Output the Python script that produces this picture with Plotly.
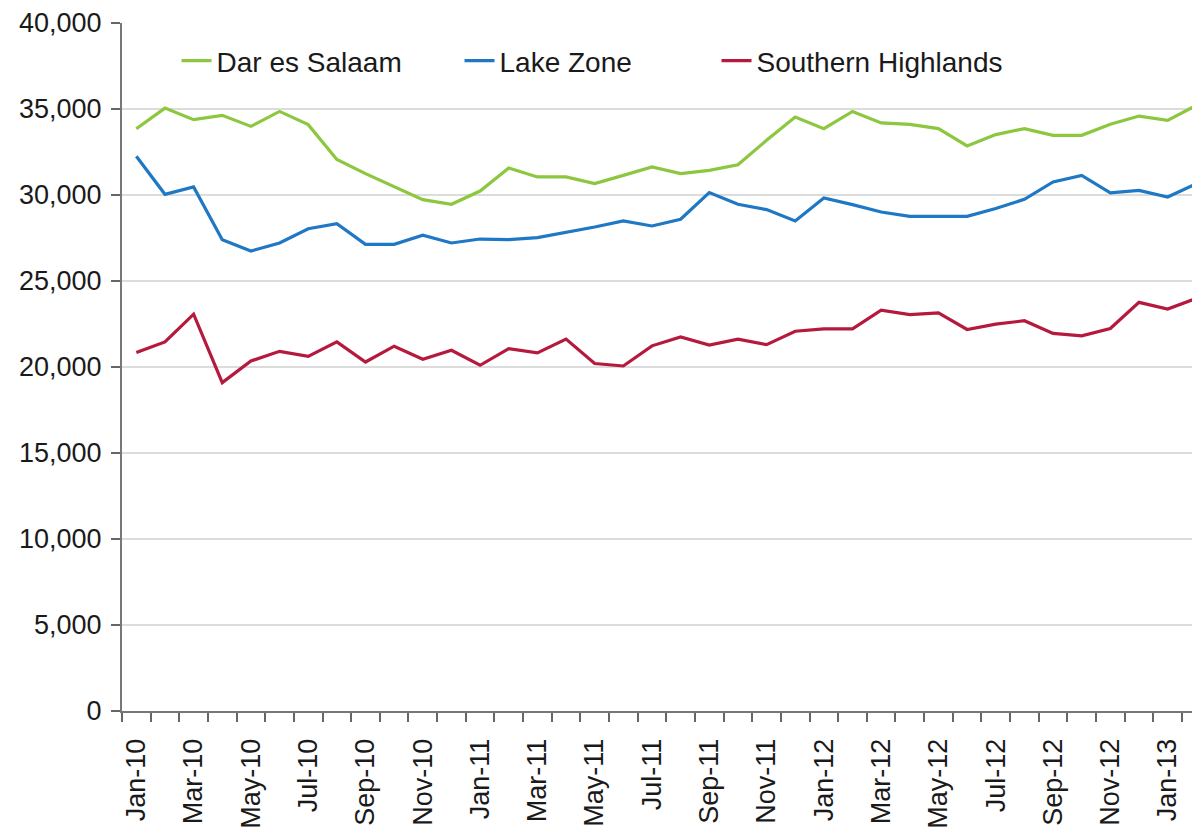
import plotly.graph_objects as go

months = ["Jan-10", "Feb-10", "Mar-10", "Apr-10", "May-10", "Jun-10", "Jul-10", "Aug-10",
          "Sep-10", "Oct-10", "Nov-10", "Dec-10", "Jan-11", "Feb-11", "Mar-11", "Apr-11",
          "May-11", "Jun-11", "Jul-11", "Aug-11", "Sep-11", "Oct-11", "Nov-11", "Dec-11",
          "Jan-12", "Feb-12", "Mar-12", "Apr-12", "May-12", "Jun-12", "Jul-12", "Aug-12",
          "Sep-12", "Oct-12", "Nov-12", "Dec-12", "Jan-13", "Feb-13"]

dar_es_salaam = [33850, 35050, 34380, 34630, 33990, 34860, 34090, 32070, 31240, 30500,
                 29730, 29460, 30230, 31570, 31050, 31050, 30660, 31140, 31630, 31240,
                 31430, 31760, 33180, 34530, 33860, 34860, 34190, 34110, 33860, 32850,
                 33510, 33860, 33470, 33470, 34110, 34590, 34340, 35210]

lake_zone = [32250, 30040, 30470, 27400, 26740, 27210, 28040, 28330, 27130, 27130,
             27660, 27210, 27440, 27400, 27520, 27810, 28140, 28490, 28200, 28590,
             30140, 29460, 29150, 28490, 29830, 29440, 29010, 28760, 28760, 28760,
             29210, 29750, 30760, 31140, 30120, 30270, 29880, 30660]

southern_highlands = [20840, 21460, 23070, 19090, 20350, 20910, 20620, 21460, 20290, 21210,
                      20450, 20970, 20100, 21070, 20820, 21620, 20200, 20060, 21230, 21750,
                      21270, 21620, 21300, 22080, 22220, 22220, 23310, 23050, 23150, 22180,
                      22490, 22690, 21950, 21810, 22240, 23760, 23370, 23990]

series_names = ["Dar es Salaam", "Lake Zone", "Southern Highlands"]
series_values = [dar_es_salaam, lake_zone, southern_highlands]
colors = ["#8DC63F", "#1F78C4", "#B5193D"]
legend_ids = ["legend", "legend2", "legend3"]
legend_x = [0.0506, 0.3131, 0.5515]

FONT = "Liberation Sans, Arial, sans-serif"
TICK_FS = 27
LEG_FS = 28

fig = go.Figure()
for name, vals, col, lg in zip(series_names, series_values, colors, legend_ids):
    fig.add_trace(go.Scatter(x=months, y=vals, mode="lines", name=name,
                             line=dict(color=col, width=3.2), legend=lg,
                             showlegend=True))

ticktext = [m if i % 2 == 0 else "" for i, m in enumerate(months)]

legend_common = dict(orientation="h", yanchor="middle", y=0.9448, xanchor="left",
                     bgcolor="rgba(0,0,0,0)", font=dict(family=FONT, size=LEG_FS, color="#1a1a1a"),
                     itemwidth=30)

fig.update_layout(
    width=1192, height=824,
    margin=dict(l=114, r=0, t=15, b=121, autoexpand=False),
    showlegend=True,
    paper_bgcolor="white", plot_bgcolor="white",
    font=dict(family=FONT, size=TICK_FS, color="#1a1a1a"),
    legend=dict(x=legend_x[0], **legend_common),
    legend2=dict(x=legend_x[1], **legend_common),
    legend3=dict(x=legend_x[2], **legend_common),
    xaxis=dict(type="category", range=[-0.5, 37.13], tickson="boundaries",
               tickmode="array", tickvals=months, ticktext=ticktext, tickangle=-90,
               ticks="outside", ticklen=9, tickwidth=1.5, tickcolor="#666666",
               ticklabelstandoff=15, automargin=False,
               showline=True, linecolor="#777777", linewidth=2,
               showgrid=False, zeroline=False,
               tickfont=dict(family=FONT, size=TICK_FS, color="#1a1a1a")),
    yaxis=dict(range=[0, 40000], dtick=5000, tick0=0, tickformat=",d",
               ticks="outside", ticklen=9, tickwidth=1.5, tickcolor="#666666",
               ticklabelstandoff=4, automargin=False,
               showline=True, linecolor="#777777", linewidth=2,
               showgrid=True, gridcolor="#DCDCDC", gridwidth=1.5, zeroline=False,
               tickfont=dict(family=FONT, size=TICK_FS, color="#1a1a1a")),
)

fig.write_html("out.html")
